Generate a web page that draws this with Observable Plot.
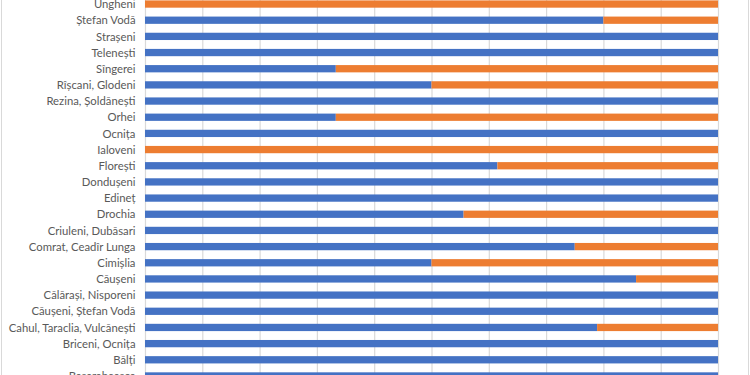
<!DOCTYPE html>
<html>
<head>
<meta charset="utf-8">
<script src="https://cdn.jsdelivr.net/npm/d3@7"></script>
<script src="https://cdn.jsdelivr.net/npm/@observablehq/plot@0.6"></script>
<style>
  html, body { margin: 0; padding: 0; background: #fff; }
  #chart { position: relative; width: 750px; height: 375px; overflow: hidden; }
  #chart svg { position: absolute; left: 0; top: 0; }
  #chart .edge { position: absolute; top: 0; bottom: 0; width: 1px; background: #d9d9d9; }
</style>
</head>
<body>
<div id="chart">
  <div class="edge" style="left:1px"></div>
  <div class="edge" style="left:748px"></div>
</div>
<script>
// Districts, top to bottom
const districts = [
  "Ungheni", "Ștefan Vodă", "Strașeni", "Telenești", "Sîngerei",
  "Rîșcani, Glodeni", "Rezina, Șoldănești", "Orhei", "Ocnița", "Ialoveni",
  "Florești", "Dondușeni", "Edineț", "Drochia", "Criuleni, Dubăsari",
  "Comrat, Ceadîr Lunga", "Cimișlia", "Căușeni", "Călărași, Nisporeni",
  "Căușeni, Ștefan Vodă", "Cahul, Taraclia, Vulcănești", "Briceni, Ocnița",
  "Bălți", "Basarabeasca"
];

// Share of the first series (percent); the second series fills the rest
const firstShare = [
  0, 80, 100, 100, 33.3,
  50, 100, 33.3, 100, 0,
  61.5, 100, 100, 55.6, 100,
  75, 50, 85.7, 100,
  100, 78.9, 100,
  100, 100
];
const secondShare = firstShare.map(v => 100 - v);

const seriesNames = ["Seria 1", "Seria 2"];
const seriesColors = ["#4472C4", "#ED7D31"];
const xTicks = [0, 10, 20, 30, 40, 50, 60, 70, 80, 90, 100];

const rows = [];
districts.forEach((d, i) => {
  rows.push({district: d, series: seriesNames[0], value: firstShare[i]});
  rows.push({district: d, series: seriesNames[1], value: secondShare[i]});
});

const chart = Plot.plot({
  width: 750,
  height: 375,
  marginLeft: 145,
  marginRight: 32,
  marginTop: 0,
  marginBottom: 0,
  style: {fontFamily: "Lato, 'Open Sans', sans-serif", fontSize: "11.3px", color: "#595959", background: "transparent"},
  x: {domain: [0, 100], axis: null},
  y: {domain: districts, range: [0.4, 379.6], paddingInner: 0.55, paddingOuter: 0, round: false, axis: null},
  color: {domain: seriesNames, range: seriesColors},
  marks: [
    Plot.ruleX(xTicks, {stroke: "#d9d9d9", strokeWidth: 1.2}),
    Plot.barX(rows, Plot.stackX({x: "value", y: "district", fill: "series", order: seriesNames})),
    Plot.axisY({tickSize: 0, tickPadding: 10, label: null, fill: "#595959", fontSize: 11.3})
  ]
});
document.getElementById("chart").appendChild(chart);
</script>
</body>
</html>
